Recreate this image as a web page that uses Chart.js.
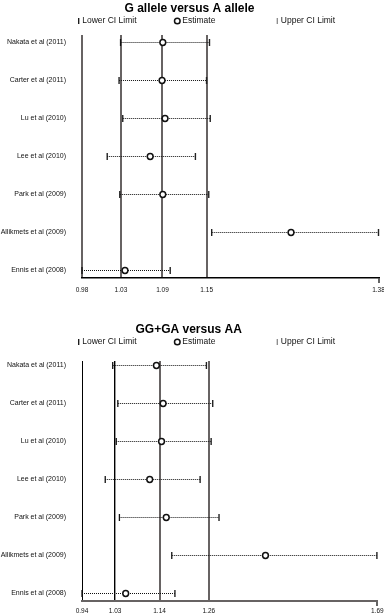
<!DOCTYPE html>
<html>
<head>
<meta charset="utf-8">
<title>Forest plots</title>
<script src="https://cdn.jsdelivr.net/npm/chart.js@4/dist/chart.umd.min.js"></script>
<style>
  html, body { margin: 0; padding: 0; background: #fff; }
  canvas { display: block; }
</style>
</head>
<body>
<canvas id="alleleChart" width="384" height="300"></canvas>
<canvas id="dominantChart" width="384" height="315"></canvas>
<script>
// Studies, top to bottom
const studies = [
  'Nakata et al (2011)',
  'Carter et al (2011)',
  'Lu et al (2010)',
  'Lee et al (2010)',
  'Park et al (2009)',
  'Allikmets et al (2009)',
  'Ennis et al (2008)'
];

// G allele versus A allele
const alleleLower    = [1.032, 1.030, 1.035, 1.014, 1.031, 1.155, 0.980];
const alleleEstimate = [1.089, 1.088, 1.092, 1.072, 1.089, 1.262, 1.038];
const alleleUpper    = [1.152, 1.148, 1.153, 1.133, 1.151, 1.380, 1.099];
const alleleTickValues = [0.98, 1.0325, 1.0886, 1.1482, 1.38];
const alleleTickLabels = ['0.98', '1.03', '1.09', '1.15', '1.38'];

// GG+GA versus AA
const domLower    = [1.018, 1.031, 1.027, 0.999, 1.035, 1.168, 0.940];
const domEstimate = [1.129, 1.146, 1.142, 1.112, 1.154, 1.406, 1.051];
const domUpper    = [1.256, 1.272, 1.268, 1.240, 1.288, 1.689, 1.176];
const domTickValues = [0.94, 1.024, 1.137, 1.262, 1.69];
const domTickLabels = ['0.94', '1.03', '1.14', '1.26', '1.69'];

Chart.defaults.font.family = '"Liberation Sans", Arial, Helvetica, sans-serif';
Chart.defaults.color = '#111';

// Three-column key under each title
const ciKey = {
  id: 'ciKey',
  afterDraw(chart, args, opts) {
    const ctx = chart.ctx;
    const y = chart.titleBlock.top + 21;
    ctx.save();
    ctx.font = '8.5px "Liberation Sans", Arial, sans-serif';
    ctx.textBaseline = 'middle';
    ctx.textAlign = 'left';
    opts.items.forEach(item => {
      if (item.kind === 'bar') {
        ctx.strokeStyle = item.color;
        ctx.lineWidth = 1.3;
        ctx.beginPath();
        ctx.moveTo(item.x, y - 3);
        ctx.lineTo(item.x, y + 3);
        ctx.stroke();
        ctx.fillStyle = '#111';
        ctx.fillText(item.text, item.x + 3.5, y);
      } else {
        ctx.strokeStyle = '#111';
        ctx.lineWidth = 1.5;
        ctx.beginPath();
        ctx.arc(item.x, y, 2.8, 0, Math.PI * 2);
        ctx.stroke();
        ctx.fillStyle = '#111';
        ctx.fillText(item.text, item.x + 5, y);
      }
    });
    ctx.restore();
  }
};

function forestDatasets(lower, estimate, upper) {
  const ciLines = lower.map((lo, i) => ({
    label: studies[i],
    data: [{ x: lo, y: i }, { x: upper[i], y: i }],
    showLine: true,
    borderColor: '#111',
    borderWidth: 1,
    borderDash: [1, 1],
    pointRadius: 0,
    clip: false
  }));
  return [
    {
      label: 'Estimate',
      data: estimate.map((v, i) => ({ x: v, y: i })),
      pointStyle: 'circle',
      pointRadius: 2.9,
      pointBorderWidth: 1.5,
      pointBorderColor: '#111',
      pointBackgroundColor: '#fff',
      clip: false
    },
    {
      label: 'Lower CI Limit',
      data: lower.map((v, i) => ({ x: v, y: i })),
      pointStyle: 'line',
      pointRotation: 90,
      pointRadius: 3.5,
      pointBorderWidth: 1.3,
      pointBorderColor: '#111',
      clip: false
    },
    {
      label: 'Upper CI Limit',
      data: upper.map((v, i) => ({ x: v, y: i })),
      pointStyle: 'line',
      pointRotation: 90,
      pointRadius: 3.5,
      pointBorderWidth: 1.4,
      pointBorderColor: '#222',
      clip: false
    },
    ...ciLines
  ];
}

function forestChart(id, cfg) {
  const last = cfg.tickValues.length - 1;
  return new Chart(document.getElementById(id), {
    type: 'scatter',
    data: { datasets: forestDatasets(cfg.lower, cfg.estimate, cfg.upper) },
    plugins: [ciKey],
    options: {
      responsive: false,
      animation: false,
      events: [],
      layout: { padding: { top: cfg.padTop, right: cfg.padRight, left: 0, bottom: 0 } },
      plugins: {
        legend: { display: false },
        tooltip: { enabled: false },
        title: {
          display: true,
          text: cfg.title,
          color: '#000',
          font: { size: 12, weight: 'bold', lineHeight: 1 },
          padding: { top: 2.5, bottom: cfg.titleGap }
        },
        ciKey: {
          items: [
            { kind: 'bar', x: 78.7, color: '#111', text: 'Lower CI Limit' },
            { kind: 'circle', x: 177.3, text: 'Estimate' },
            { kind: 'bar', x: 277.3, color: '#888', text: 'Upper CI Limit' }
          ]
        }
      },
      scales: {
        x: {
          type: 'linear',
          min: cfg.tickValues[0],
          max: cfg.tickValues[last],
          afterBuildTicks: s => { s.ticks = cfg.tickValues.map(v => ({ value: v })); },
          afterFit: s => { s.paddingLeft = 0; s.paddingRight = 0; s.height = cfg.axisHeight; },
          ticks: {
            autoSkip: false,
            maxRotation: 0,
            padding: cfg.tickPad,
            font: { size: 6.5 },
            color: '#111',
            callback: (v, i) => cfg.tickLabels[i]
          },
          grid: {
            color: c => cfg.lineColors[c.index] || 'rgba(0,0,0,0)',
            lineWidth: c => cfg.lineWidths[c.index] || 0,
            tickColor: c => (c.index === last ? '#111' : 'rgba(0,0,0,0)'),
            tickLength: 5,
            tickWidth: 1.3
          },
          border: { display: true, color: cfg.axisColor, width: cfg.axisWidth }
        },
        y: {
          type: 'linear',
          reverse: true,
          min: cfg.yMin,
          max: cfg.yMax,
          afterBuildTicks: s => { s.ticks = studies.map((_, i) => ({ value: i })); },
          afterFit: s => { s.width = 82; s.paddingTop = 0; s.paddingBottom = 0; },
          ticks: {
            autoSkip: false,
            padding: 16,
            font: { size: 7 },
            color: '#111',
            callback: (v, i) => studies[i]
          },
          grid: { display: false, drawTicks: false },
          border: { display: false }
        }
      }
    }
  });
}

forestChart('alleleChart', {
  title: 'G allele versus A allele',
  lower: alleleLower, estimate: alleleEstimate, upper: alleleUpper,
  tickValues: alleleTickValues, tickLabels: alleleTickLabels,
  lineColors: ['#676363', '#676363', '#676363', '#676363', null],
  lineWidths: [2, 2, 2, 2, 0],
  axisColor: '#000', axisWidth: 1.5,
  padTop: 0, padRight: 5, titleGap: 20.5,
  axisHeight: 22, tickPad: 3.5,
  yMin: -7.5 / 38, yMax: 6 + 7.5 / 38
});

forestChart('dominantChart', {
  title: 'GG+GA versus AA',
  lower: domLower, estimate: domEstimate, upper: domUpper,
  tickValues: domTickValues, tickLabels: domTickLabels,
  lineColors: ['#000', '#000', '#676363', '#676363', null],
  lineWidths: [1, 1.4, 2, 2, 0],
  axisColor: '#676363', axisWidth: 2,
  padTop: 21, padRight: 6.7, titleGap: 25.5,
  axisHeight: 14, tickPad: 1.8,
  yMin: -4.5 / 38, yMax: 6 + 7.5 / 38
});
</script>
</body>
</html>
